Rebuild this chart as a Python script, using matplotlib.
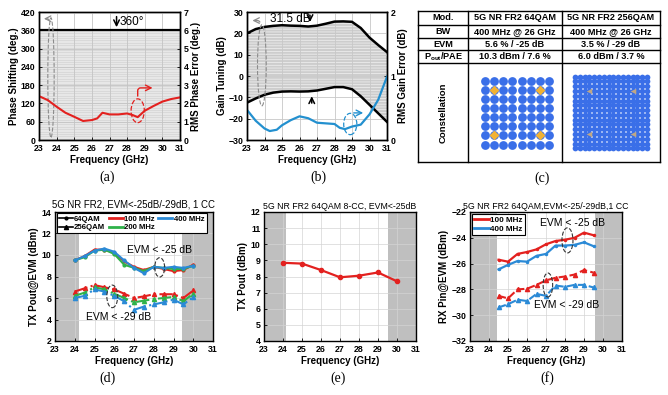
import numpy as np
import matplotlib
matplotlib.use('Agg')
import matplotlib.pyplot as plt
from matplotlib.patches import Ellipse
from matplotlib.lines import Line2D

plt.rcParams['font.family'] = ['Liberation Sans', 'DejaVu Sans']
plt.rcParams['font.weight'] = 'bold'
plt.rcParams['axes.labelweight'] = 'bold'
plt.rcParams['mathtext.fontset'] = 'custom'
plt.rcParams['mathtext.rm'] = 'Liberation Sans:bold'
plt.rcParams['hatch.linewidth'] = 0.5

# ---------------- data ----------------
# (a) phase shifter
freq_a = [23, 23.5, 24, 24.5, 25, 25.5, 26, 26.3, 26.6, 27, 27.5, 28, 28.3, 28.6, 29, 29.5, 30, 30.5, 31]
rms_phase_err = [2.4, 2.18, 1.82, 1.49, 1.27, 1.04, 1.09, 1.18, 1.49, 1.4, 1.4, 1.45, 1.37, 1.25, 1.6, 1.86, 2.1, 2.24, 2.33]
phase_step = 5.625
n_phase_states = 64

# (b) gain tuning
freq_b = [23, 23.5, 24, 24.5, 25, 25.5, 26, 26.5, 27, 27.5, 28, 28.5, 29, 29.5, 30, 30.5, 31]
gain_max = [20, 22, 23, 23.5, 23.8, 23.6, 23.5, 23.2, 23.6, 24.5, 25.5, 25.6, 25.4, 22.5, 18, 14.5, 11.2]
gain_min = [-12.5, -10.5, -8.8, -7.8, -7.3, -7.2, -7.3, -7.2, -6.8, -6.0, -5.2, -5.2, -6.2, -9.5, -13.5, -17.5, -21.5]
freq_b_err = [23, 23.5, 24, 24.3, 24.7, 25, 25.5, 26, 26.5, 27, 27.5, 28, 28.3, 28.6, 29, 29.5, 30, 30.5, 31]
rms_gain_err = [0.47, 0.3, 0.18, 0.14, 0.16, 0.23, 0.31, 0.37, 0.34, 0.27, 0.26, 0.25, 0.19, 0.17, 0.21, 0.24, 0.4, 0.63, 0.99]

# (c) table
table_rows = [
    ['Mod.', '5G NR FR2 64QAM', '5G NR FR2 256QAM'],
    ['BW', '400 MHz @ 26 GHz', '400 MHz @ 26 GHz'],
    ['EVM', '5.6 % / -25 dB', '3.5 % / -29 dB'],
    [r'P$_{\rm out}$/PAE', '10.3 dBm / 7.6 %', '6.0 dBm / 3.7 %'],
]
qam64_levels = [-7, -5, -3, -1, 1, 3, 5, 7]
qam64_pilots = [-5, 5]
qam256_levels = [-15, -13, -11, -9, -7, -5, -3, -1, 1, 3, 5, 7, 9, 11, 13, 15]
qam256_pilots = [-9, 9]

# (d) TX Pout@EVM, 1 CC
freq_d = [24, 24.5, 25, 25.5, 26, 26.5, 27, 27.5, 28, 28.5, 29, 29.5, 30]
d64_100 = [9.5, 9.9, 10.5, 10.5, 10.2, 9.4, 8.9, 8.6, 8.9, 8.7, 8.5, 8.6, 9.1]
d64_200 = [9.5, 9.8, 10.4, 10.5, 10.1, 9.1, 8.8, 8.5, 8.9, 8.8, 8.7, 8.7, 9.0]
d64_400 = [9.5, 9.9, 10.4, 10.6, 10.3, 9.5, 8.8, 8.3, 8.9, 8.8, 8.9, 8.8, 9.0]
d256_100 = [6.6, 6.9, 7.2, 7.0, 6.8, 6.4, 6.0, 6.15, 6.35, 6.35, 6.35, 6.0, 6.7]
d256_200 = [6.2, 6.5, 7.0, 6.8, 6.4, 6.0, 5.6, 5.75, 5.9, 6.0, 6.1, 5.7, 6.4]
d256_400 = [6.0, 6.2, 6.8, 6.6, 6.2, 5.7, 4.9, 5.2, 5.4, 5.6, 5.85, 5.4, 6.1]

# (e) TX Pout, 8-CC
freq_e = [24, 25, 26, 27, 28, 29, 30]
e_pout = [8.85, 8.8, 8.4, 7.95, 8.05, 8.25, 7.7]

# (f) RX Pin@EVM
freq_f = [24.5, 25, 25.5, 26, 26.5, 27, 27.5, 28, 28.5, 29, 29.5]
f25_100 = [-25.7, -25.85, -25.25, -25.1, -24.9, -24.5, -24.25, -24.15, -24.0, -23.6, -23.8]
f25_400 = [-26.45, -26.1, -25.8, -25.85, -25.4, -25.25, -24.6, -24.6, -24.55, -24.35, -24.65]
f29_100 = [-28.5, -28.7, -28.0, -27.95, -27.65, -27.3, -27.1, -27.0, -26.85, -26.5, -26.7]
f29_400 = [-29.4, -29.15, -28.8, -28.9, -28.35, -28.5, -27.7, -27.8, -27.65, -27.65, -27.85]

# ---------------- figure ----------------
W, H = 668, 395
fig = plt.figure(figsize=(W / 100, H / 100), dpi=100)

def px_axes(x0, y0, x1, y1, **kw):
    return fig.add_axes([x0 / W, 1 - y1 / H, (x1 - x0) / W, (y1 - y0) / H], **kw)

def style(ax, lab=6.3):
    ax.tick_params(direction='in', labelsize=lab, length=2, width=0.6)
    ax.tick_params(axis='x', pad=3)
    ax.tick_params(axis='y', pad=2.5)
    for sp in ax.spines.values():
        sp.set_linewidth(1.0)

RED = '#e3211f'
GREEN = '#2fb24a'
BLUE = '#2b8ad6'
BLUE_B = '#2390cf'
LBL = 7

# ---- (a) ----
ax = px_axes(39, 12, 180, 140)
ax.axhspan(0, 360, color='#d9d9d9', zorder=0)
for k in range(n_phase_states):
    ax.axhline(k * phase_step, color='#f0f0f0', lw=0.45, zorder=1)
ax.axhline(360, color='k', lw=1.6, zorder=3)
ax.set_xlim(23, 31)
ax.set_ylim(0, 420)
ax.set_xticks(range(23, 32))
ax.set_yticks(range(0, 421, 60))
ax.grid(color='#c4c4c4', lw=0.6, zorder=2)
ax.set_axisbelow(False)
style(ax)
ax.set_ylabel('Phase Shifting (deg.)', fontsize=LBL, labelpad=1)
ax.set_xlabel('Frequency (GHz)', fontsize=LBL, labelpad=1)
ax.annotate('', xy=(27.4, 361), xytext=(27.4, 414),
            arrowprops=dict(arrowstyle='->', lw=1.1, color='k'))
ax.text(27.55, 388, '360°', fontsize=8.5, fontweight='normal', va='center')
ax.add_patch(Ellipse((23.68, 205), 0.36, 392, fill=False, ls='--', ec='#8c8c8c', lw=0.8, zorder=4))
ax.annotate('', xy=(23.12, 398), xytext=(23.6, 385),
            arrowprops=dict(arrowstyle='->', lw=0.9, color='#8c8c8c',
                            connectionstyle='angle,angleA=90,angleB=0,rad=3'))
ax2 = ax.twinx()
ax2.plot(freq_a, rms_phase_err, color=RED, lw=1.5)
ax2.set_ylim(0, 7)
ax2.set_yticks(range(0, 8))
style(ax2)
ax2.set_ylabel('RMS Phase Error (deg.)', fontsize=LBL, labelpad=2)
ax2.add_patch(Ellipse((28.6, 1.6), 0.75, 1.3, fill=False, ls='--', ec=RED, lw=0.9))
ax2.annotate('', xy=(29.6, 2.85), xytext=(28.6, 2.25),
             arrowprops=dict(arrowstyle='->', lw=1.0, color=RED,
                             connectionstyle='angle,angleA=90,angleB=0,rad=3'))

# ---- (b) ----
bx = px_axes(247, 12, 387, 140)
bx.fill_between(freq_b, gain_min, gain_max, facecolor='#cdcdcd', edgecolor='#f2f2f2',
                hatch='------', lw=0, zorder=1)
bx.plot(freq_b, gain_max, color='k', lw=1.8, zorder=3)
bx.plot(freq_b, gain_min, color='k', lw=1.8, zorder=3)
bx.set_xlim(23, 31)
bx.set_ylim(-30, 30)
bx.set_xticks(range(23, 32))
bx.set_yticks(range(-30, 31, 10))
bx.grid(color='#c8c8c8', lw=0.6, zorder=2)
bx.set_axisbelow(False)
style(bx)
bx.set_ylabel('Gain Tuning (dB)', fontsize=LBL, labelpad=1)
bx.set_xlabel('Frequency (GHz)', fontsize=LBL, labelpad=1)
bx.text(24.3, 26.8, '31.5 dB', fontsize=8.5, fontweight='normal', va='center')
bx.annotate('', xy=(26.6, 24.0), xytext=(26.6, 29.8),
            arrowprops=dict(arrowstyle='->', lw=1.1, color='k'))
bx.annotate('', xy=(26.7, -8.2), xytext=(26.7, -14.0),
            arrowprops=dict(arrowstyle='->', lw=1.1, color='k'))
bx.add_patch(Ellipse((23.85, 5), 0.5, 38, fill=False, ls='--', ec='#8c8c8c', lw=0.8, zorder=4))
bx.annotate('', xy=(23.15, 26), xytext=(23.75, 24),
            arrowprops=dict(arrowstyle='->', lw=0.9, color='#8c8c8c',
                            connectionstyle='angle,angleA=90,angleB=0,rad=3'))
bx.add_patch(Ellipse((28.9, -22.5), 0.75, 10, fill=False, ls='--', ec=BLUE_B, lw=0.9, zorder=4))
bx.annotate('', xy=(29.8, -17.3), xytext=(28.95, -17.8),
            arrowprops=dict(arrowstyle='->', lw=1.0, color=BLUE_B,
                            connectionstyle='angle,angleA=90,angleB=0,rad=3'))
bx2 = bx.twinx()
bx2.plot(freq_b_err, rms_gain_err, color=BLUE_B, lw=1.6)
bx2.set_ylim(0, 2)
bx2.set_yticks([0, 1, 2])
style(bx2)
bx2.set_ylabel('RMS Gain Error (dB)', fontsize=LBL, labelpad=2)

# ---- (c) table ----
tab = fig.add_axes([0, 0, 1, 1])
tab.set_xlim(0, W)
tab.set_ylim(H, 0)
tab.axis('off')
tab.patch.set_visible(False)
col_x = [418.3, 468.3, 561.7, 660]
row_y = [10.7, 25, 38.3, 50, 63.3, 162]
for xv in col_x:
    tab.plot([xv, xv], [row_y[0], row_y[-1]], color='k', lw=1.0)
for yv in row_y:
    tab.plot([col_x[0], col_x[-1]], [yv, yv], color='k', lw=1.0)
for r, row in enumerate(table_rows):
    yc = (row_y[r] + row_y[r + 1]) / 2
    for c, txt in enumerate(row):
        xc = (col_x[c] + col_x[c + 1]) / 2
        tab.text(xc, yc, txt, fontsize=6.6, ha='center', va='center')
tab.text((col_x[0] + col_x[1]) / 2, (row_y[4] + row_y[5]) / 2, 'Constellation',
         fontsize=6.8, rotation=90, ha='center', va='center')

QBLUE = '#3a6fe8'
c64 = px_axes(477, 72.5, 557, 152.5)
gx, gy = np.meshgrid(qam64_levels, qam64_levels)
c64.scatter(gx.ravel(), gy.ravel(), s=40, color=QBLUE, linewidths=0)
px_, py_ = np.meshgrid(qam64_pilots, qam64_pilots)
c64.scatter(px_.ravel(), py_.ravel(), s=24, color='#f2b233', linewidths=0, marker='D')
c64.set_xlim(-8.75, 8.75)
c64.set_ylim(-8.75, 8.75)
c64.axis('off')

c256 = px_axes(571, 72.5, 651, 152.5)
gx, gy = np.meshgrid(qam256_levels, qam256_levels)
c256.scatter(gx.ravel(), gy.ravel(), s=17, color=QBLUE, linewidths=0)
px_, py_ = np.meshgrid(qam256_pilots, qam256_pilots)
c256.scatter(px_.ravel(), py_.ravel(), s=16, color='#bfa785', linewidths=0, marker='<')
c256.set_xlim(-16.7, 16.7)
c256.set_ylim(-16.7, 16.7)
c256.axis('off')

# ---- (d) ----
dx = px_axes(55, 212, 213, 341)
dx.axvspan(23, 24.2, color='#bfbfbf', lw=0, zorder=0)
dx.axvspan(29.45, 31, color='#bfbfbf', lw=0, zorder=0)
dx.set_xlim(23, 31)
dx.set_ylim(2, 14)
dx.set_xticks(range(23, 32))
dx.set_yticks(range(2, 15, 2))
dx.grid(color='#d4d4d4', lw=0.5, zorder=0.5)
for ys, col in [(d64_100, RED), (d64_200, GREEN), (d64_400, BLUE)]:
    dx.plot(freq_d, ys, color=col, lw=1.5, marker='o', ms=2, zorder=3)
for ys, col in [(d256_100, RED), (d256_200, GREEN), (d256_400, BLUE)]:
    dx.plot(freq_d, ys, color=col, lw=1.5, ls='-.', marker='^', ms=3, zorder=3)
style(dx)
dx.set_title('5G NR FR2, EVM<-25dB/-29dB, 1 CC', fontsize=6.9, pad=3.5)
dx.set_ylabel('TX Pout@EVM (dBm)', fontsize=LBL, labelpad=2)
dx.set_xlabel('Frequency (GHz)', fontsize=LBL, labelpad=1)
dx.text(28.3, 10.45, 'EVM < -25 dB', fontsize=7.5, fontweight='normal', ha='center', va='center')
dx.text(26.2, 4.2, 'EVM < -29 dB', fontsize=7.5, fontweight='normal', ha='center', va='center')
dx.add_patch(Ellipse((28.3, 8.85), 0.5, 1.8, fill=False, ls='--', ec='#333333', lw=0.8, zorder=4))
dx.add_patch(Ellipse((25.9, 6.15), 0.55, 2.1, fill=False, ls='--', ec='#333333', lw=0.8, zorder=4))
handles = [Line2D([], [], color='k', lw=1.2, marker='o', ms=2),
           Line2D([], [], color='k', lw=1.2, marker='^', ms=3),
           Line2D([], [], color=RED, lw=2),
           Line2D([], [], color=GREEN, lw=2),
           Line2D([], [], color=BLUE, lw=2)]
leg = dx.legend(handles, ['64QAM', '256QAM', '100 MHz', '200 MHz', '400 MHz'],
                ncol=3, loc='upper left', bbox_to_anchor=(0.005, 0.995), fontsize=5.6,
                handlelength=1.8, columnspacing=0.45, handletextpad=0.2,
                borderpad=0.25, labelspacing=0.15, borderaxespad=0.1, fancybox=False,
                framealpha=1, edgecolor='k')
leg.get_frame().set_linewidth(0.8)

# ---- (e) ----
ex = px_axes(264, 212, 416, 341)
ex.axvspan(23, 24.16, color='#bfbfbf', lw=0, zorder=0)
ex.axvspan(29.5, 31, color='#bfbfbf', lw=0, zorder=0)
ex.set_xlim(23, 31)
ex.set_ylim(4, 12)
ex.set_xticks(range(23, 32))
ex.set_yticks(range(4, 13))
ex.grid(color='#d4d4d4', lw=0.5, zorder=0.5)
ex.plot(freq_e, e_pout, color=RED, lw=1.6, marker='o', ms=3, zorder=3)
style(ex)
ex.set_title('5G NR FR2 64QAM 8-CC, EVM<-25dB', fontsize=6.3, pad=2)
ex.set_ylabel('TX Pout (dBm)', fontsize=LBL, labelpad=2)
ex.set_xlabel('Frequency (GHz)', fontsize=LBL, labelpad=1)

# ---- (f) ----
fx = px_axes(470, 212, 622, 341)
fx.axvspan(23, 24.4, color='#bfbfbf', lw=0, zorder=0)
fx.axvspan(29.58, 31, color='#bfbfbf', lw=0, zorder=0)
fx.set_xlim(23, 31)
fx.set_ylim(-32, -22)
fx.set_xticks(range(23, 32))
fx.set_yticks(range(-32, -21, 2))
fx.grid(color='#d4d4d4', lw=0.5, zorder=0.5)
fx.plot(freq_f, f25_100, color=RED, lw=1.6, marker='o', ms=1.5, zorder=3)
fx.plot(freq_f, f25_400, color=BLUE, lw=1.6, marker='o', ms=1.5, zorder=3)
fx.plot(freq_f, f29_100, color=RED, lw=1.5, ls='--', marker='^', ms=3, zorder=3)
fx.plot(freq_f, f29_400, color=BLUE, lw=1.5, ls='--', marker='^', ms=3, zorder=3)
style(fx)
fx.set_title('5G NR FR2 64QAM,EVM<-25/-29dB,1 CC', fontsize=6.3, pad=2)
fx.set_ylabel('RX Pin@EVM (dBm)', fontsize=LBL, labelpad=2)
fx.set_xlabel('Frequency (GHz)', fontsize=LBL, labelpad=1)
fx.text(28.37, -22.85, 'EVM < -25 dB', fontsize=7.5, fontweight='normal', ha='center', va='center')
fx.text(28.1, -29.2, 'EVM < -29 dB', fontsize=7.5, fontweight='normal', ha='center', va='center')
fx.add_patch(Ellipse((28.13, -24.2), 0.58, 1.95, fill=False, ls='--', ec='#333333', lw=0.8, zorder=4))
fx.add_patch(Ellipse((27.1, -27.66), 0.5, 1.86, fill=False, ls='--', ec='#333333', lw=0.8, zorder=4))
fleg = fx.legend([Line2D([], [], color=RED, lw=2), Line2D([], [], color=BLUE, lw=2)],
                 ['100 MHz', '400 MHz'], loc='upper left', bbox_to_anchor=(0.01, 0.99),
                 fontsize=5.8, handlelength=1.8, handletextpad=0.2, borderpad=0.25,
                 labelspacing=0.15, borderaxespad=0.1, fancybox=False, framealpha=1,
                 edgecolor='k')
fleg.get_frame().set_linewidth(0.8)

# ---- panel labels ----
for (x, y, s) in [(107, 177, '(a)'), (318, 177, '(b)'), (542, 178, '(c)'),
                  (108, 378, '(d)'), (338, 378, '(e)'), (547, 378, '(f)')]:
    fig.text(x / W, 1 - y / H, s, fontsize=10, family='Liberation Serif',
             fontweight='normal', ha='center', va='center')

fig.savefig('out.png', dpi=100)
